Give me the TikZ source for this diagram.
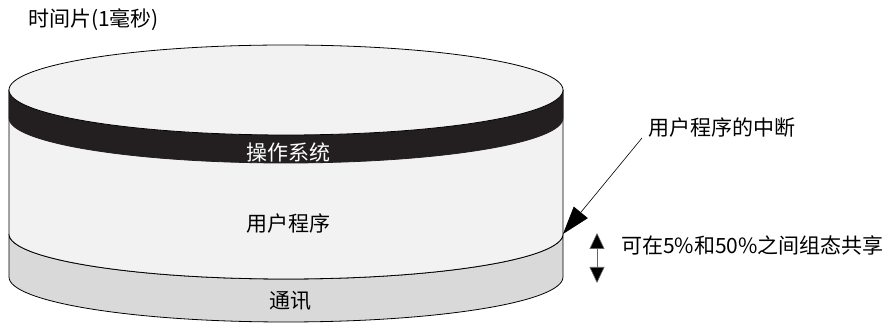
\documentclass[tikz,border=0pt]{standalone}
\usepackage{fontspec}
\setmainfont{Noto Sans CJK SC}
\usetikzlibrary{arrows.meta}
\definecolor{bandblack}{HTML}{231F20}
\definecolor{lightfill}{HTML}{F2F2F2}
\definecolor{grayfill}{HTML}{D9D9D9}
\tikzset{
  lbl/.style={inner sep=0pt, font=\fontsize{21}{25}\selectfont},
  outline/.style={draw=black, line width=0.8pt},
}
\begin{document}
\begin{tikzpicture}[x=1pt,y=1pt]
\useasboundingbox (0,0) rectangle (887,323);
% gray communication section
\path[outline, fill=grayfill] (9,89) -- (9,46) arc[start angle=180,end angle=360,x radius=277,y radius=45] -- (563,89) arc[start angle=0,end angle=-180,x radius=277,y radius=45] -- cycle;
% white body
\path[outline, fill=lightfill] (9,233) -- (9,89) arc[start angle=180,end angle=360,x radius=277,y radius=45] -- (563,233) -- cycle;
% black OS band
\path[fill=bandblack, draw=bandblack, line width=0.8pt] (9,233) -- (9,205) arc[start angle=180,end angle=360,x radius=277,y radius=45] -- (563,233) arc[start angle=0,end angle=-180,x radius=277,y radius=45] -- cycle;
% top ellipse
\path[outline, fill=lightfill] (286,233) ellipse[x radius=277,y radius=45];

% labels
\node[lbl, anchor=west] (title) at (28,303) {时间片(1毫秒)};
\node[lbl, text=white] (os) at (288,171) {操作系统};
\node[lbl] (user) at (288,99) {用户程序};
\node[lbl] (comm) at (290,22) {通讯};
\node[lbl, anchor=west] (intr) at (648,195) {用户程序的中断};
\node[lbl, anchor=west] (share) at (621,78) {可在5\%和50\%之间组态共享};

% connectors
\coordinate (intS) at (642,185);
\coordinate (intE) at (563,89);
\draw[line width=0.6pt, -{Triangle[length=28pt,width=18pt]}] (intS) -- (intE);
\coordinate (dTop) at (597,90);
\coordinate (dBot) at (597,40);
\draw[line width=0.6pt, draw=black!60, {Triangle[length=16pt,width=15pt,fill=black]}-{Triangle[length=16pt,width=15pt,fill=black]}] (dBot) -- (dTop);
\end{tikzpicture}
\end{document}
